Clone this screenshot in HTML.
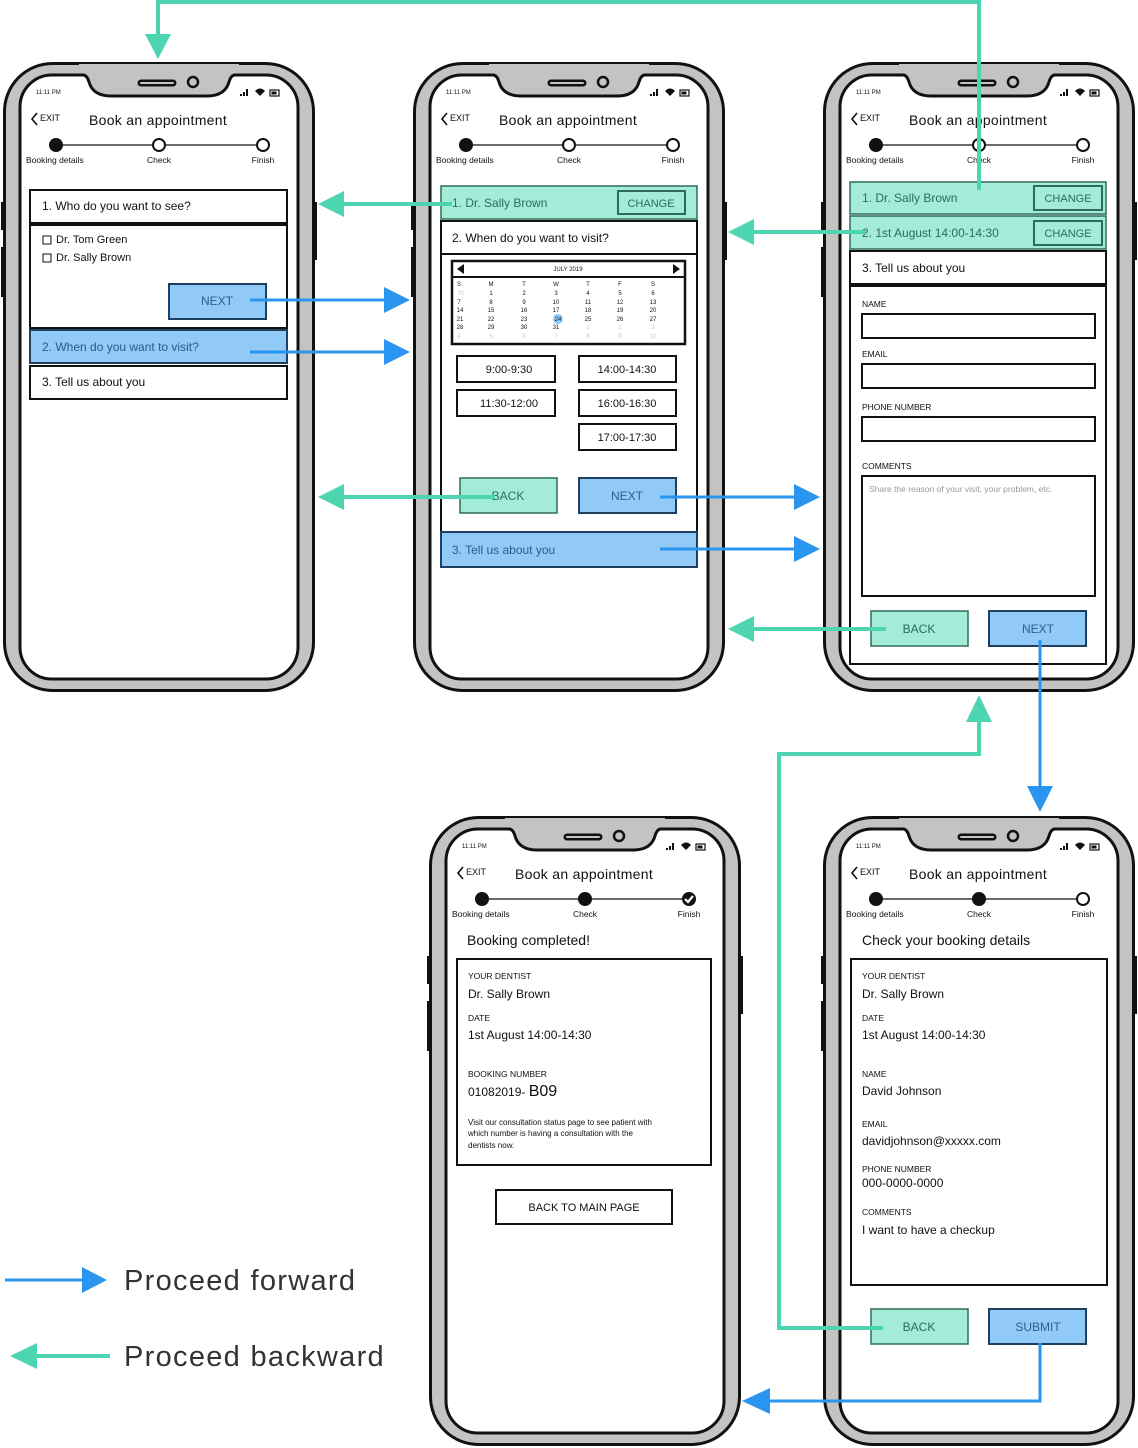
<!DOCTYPE html>
<html><head><meta charset="utf-8">
<style>
html,body{margin:0;padding:0;background:#fff;}
svg{display:block;}
text{font-family:"Liberation Sans",sans-serif;fill:#111;}
.s{font-size:12px}
.lb{font-size:8.5px}
.tn{font-size:6px}
.cal{font-size:6px;text-anchor:middle}
.g{fill:#ccc}
.bt{font-size:11px;text-anchor:middle}
</style></head>
<body>
<svg width="1138" height="1448" viewBox="0 0 1138 1448" xmlns="http://www.w3.org/2000/svg">
<defs>
<g id="frame">
  <rect x="-2" y="140" width="5" height="28" fill="#111"/>
  <rect x="-2" y="185" width="5" height="50" fill="#111"/>
  <rect x="309" y="140" width="5" height="58" fill="#111"/>
  <rect x="1.5" y="1.5" width="309" height="627" rx="48" fill="#c3c3c3" stroke="#111" stroke-width="3"/>
  <rect x="17" y="13" width="278" height="604" rx="32" fill="#fff" stroke="#111" stroke-width="3"/>
  <path d="M76,11 L80,11 Q84,12 86,20 Q90,34 108,34 L204,34 Q222,34 226,20 Q228,12 232,11 L236,11 L236,2 L76,2 Z" fill="#c3c3c3"/>
  <path d="M80,13 Q84,13 86,20 Q90,34 108,34 L204,34 Q222,34 226,20 Q228,13 232,13" fill="none" stroke="#111" stroke-width="3"/>
  <line x1="138" y1="21" x2="170" y2="21" stroke="#111" stroke-width="7" stroke-linecap="round"/>
  <line x1="138" y1="21" x2="170" y2="21" stroke="#c3c3c3" stroke-width="2" stroke-linecap="round"/>
  <circle cx="190" cy="20" r="5" fill="#c3c3c3" stroke="#111" stroke-width="2.5"/>
  <rect x="237" y="32" width="2" height="2" fill="#111"/><rect x="240" y="30" width="2" height="4" fill="#111"/><rect x="243" y="27" width="2" height="7" fill="#111"/>
  <path d="M252,29 Q257,24 262,29 L257,34 Z" fill="#111"/>
  <rect x="267" y="28" width="9" height="6" fill="none" stroke="#111" stroke-width="1.2"/><rect x="268.5" y="29.5" width="5" height="3" fill="#111"/>
  <path d="M34,51 L29,57 L34,63" fill="none" stroke="#111" stroke-width="1.6"/>
  <line x1="53" y1="83" x2="260" y2="83" stroke="#111" stroke-width="1.2"/>
</g>
<g id="hdr">
  <text x="33" y="32" style="font-size:6px">11:11 PM</text>
  <text x="37" y="59" style="font-size:9px">EXIT</text>
  <text x="86" y="63" style="font-size:14px;letter-spacing:0.3px">Book an appointment</text>
  <text x="23" y="101" style="font-size:8.5px">Booking details</text>
  <text x="156" y="101" style="font-size:8.5px" text-anchor="middle">Check</text>
  <text x="260" y="101" style="font-size:8.5px" text-anchor="middle">Finish</text>
</g>
</defs>

<!-- Phone 1 -->
<g transform="translate(3,62)"><use href="#frame"/><use href="#hdr"/>
<circle cx="53" cy="83" r="7" fill="#111"/><circle cx="156" cy="83" r="6" fill="#fff" stroke="#111" stroke-width="2"/><circle cx="260" cy="83" r="6" fill="#fff" stroke="#111" stroke-width="2"/></g>
<rect x="30" y="190" width="257" height="33" fill="#fff" stroke="#111" stroke-width="2"/>
<text x="42" y="210" class="s">1. Who do you want to see?</text>
<rect x="30" y="225" width="257" height="103" fill="#fff" stroke="#111" stroke-width="2"/>
<rect x="43" y="236" width="8" height="8" fill="none" stroke="#111"/><text x="56" y="243" style="font-size:11px">Dr. Tom Green</text>
<rect x="43" y="254" width="8" height="8" fill="none" stroke="#111"/><text x="56" y="261" style="font-size:11px">Dr. Sally Brown</text>
<rect x="169" y="284" width="97" height="35" fill="#91c9f7" stroke="#1d4060" stroke-width="2"/>
<text x="217" y="305" class="bt" style="fill:#2d5f8a;font-size:12px">NEXT</text>
<rect x="30" y="330" width="257" height="33" fill="#91c9f7" stroke="#1d4060" stroke-width="2"/>
<text x="42" y="351" class="s" style="fill:#2a5b86">2. When do you want to visit?</text>
<rect x="30" y="366" width="257" height="33" fill="#fff" stroke="#111" stroke-width="2"/>
<text x="42" y="386" class="s">3. Tell us about you</text>

<!-- Phone 2 -->
<g transform="translate(413,62)"><use href="#frame"/><use href="#hdr"/>
<circle cx="53" cy="83" r="7" fill="#111"/><circle cx="156" cy="83" r="6" fill="#fff" stroke="#111" stroke-width="2"/><circle cx="260" cy="83" r="6" fill="#fff" stroke="#111" stroke-width="2"/></g>
<rect x="441" y="221" width="256" height="346" fill="#fff" stroke="#111" stroke-width="2"/>
<rect x="441" y="186" width="256" height="33" fill="#a3ecd9" stroke="#2e6b5a" stroke-width="1.5"/>
<text x="452" y="207" class="s" style="fill:#2e6b5a">1. Dr. Sally Brown</text>
<rect x="618" y="191" width="67" height="23" fill="none" stroke="#2e6b5a" stroke-width="2"/>
<text x="651" y="207" class="bt" style="fill:#2e6b5a">CHANGE</text>
<line x1="441" y1="254" x2="697" y2="254" stroke="#111" stroke-width="2"/>
<text x="452" y="242" class="s">2. When do you want to visit?</text>
<rect x="452" y="261" width="233" height="83" fill="#fff" stroke="#111" stroke-width="2.5"/>
<line x1="452" y1="277" x2="685" y2="277" stroke="#111" stroke-width="2"/>
<path d="M457,269 L464,264 L464,274 Z" fill="#111"/><path d="M680,269 L673,264 L673,274 Z" fill="#111"/>
<text x="568" y="271" class="cal">JULY 2019</text>
<g class="cal">
<text x="459" y="286" class="cal">S</text><text x="491" y="286" class="cal">M</text><text x="524" y="286" class="cal">T</text><text x="556" y="286" class="cal">W</text><text x="588" y="286" class="cal">T</text><text x="620" y="286" class="cal">F</text><text x="653" y="286" class="cal">S</text>
<text x="461" y="295" class="cal" style="fill:#ccc">30</text><text x="491" y="295" class="cal">1</text><text x="524" y="295" class="cal">2</text><text x="556" y="295" class="cal">3</text><text x="588" y="295" class="cal">4</text><text x="620" y="295" class="cal">5</text><text x="653" y="295" class="cal">6</text>
<text x="459" y="304" class="cal">7</text><text x="491" y="304" class="cal">8</text><text x="524" y="304" class="cal">9</text><text x="556" y="304" class="cal">10</text><text x="588" y="304" class="cal">11</text><text x="620" y="304" class="cal">12</text><text x="653" y="304" class="cal">13</text>
<text x="460" y="312" class="cal">14</text><text x="491" y="312" class="cal">15</text><text x="524" y="312" class="cal">16</text><text x="556" y="312" class="cal">17</text><text x="588" y="312" class="cal">18</text><text x="620" y="312" class="cal">19</text><text x="653" y="312" class="cal">20</text>
<circle cx="558" cy="319" r="5" fill="#91c9f7"/>
<text x="460" y="321" class="cal">21</text><text x="491" y="321" class="cal">22</text><text x="524" y="321" class="cal">23</text><text x="558" y="321" class="cal">24</text><text x="588" y="321" class="cal">25</text><text x="620" y="321" class="cal">26</text><text x="653" y="321" class="cal">27</text>
<text x="460" y="329" class="cal">28</text><text x="491" y="329" class="cal">29</text><text x="524" y="329" class="cal">30</text><text x="556" y="329" class="cal">31</text><text x="588" y="329" class="cal" style="fill:#ccc">1</text><text x="620" y="329" class="cal" style="fill:#ccc">2</text><text x="653" y="329" class="cal" style="fill:#ccc">3</text>
<text x="459" y="338" class="cal" style="fill:#ccc">4</text><text x="491" y="338" class="cal" style="fill:#ccc">5</text><text x="524" y="338" class="cal" style="fill:#ccc">6</text><text x="556" y="338" class="cal" style="fill:#ccc">7</text><text x="588" y="338" class="cal" style="fill:#ccc">8</text><text x="620" y="338" class="cal" style="fill:#ccc">9</text><text x="653" y="338" class="cal" style="fill:#ccc">10</text>
</g>
<g fill="#fff" stroke="#111" stroke-width="2">
<rect x="457" y="356" width="98" height="26"/><rect x="579" y="356" width="97" height="26"/>
<rect x="457" y="390" width="98" height="26"/><rect x="579" y="390" width="97" height="26"/>
<rect x="579" y="424" width="97" height="26"/>
</g>
<text x="509" y="373" class="bt">9:00-9:30</text><text x="627" y="373" class="bt">14:00-14:30</text>
<text x="509" y="407" class="bt">11:30-12:00</text><text x="627" y="407" class="bt">16:00-16:30</text>
<text x="627" y="441" class="bt">17:00-17:30</text>
<rect x="460" y="478" width="97" height="35" fill="#a3ecd9" stroke="#2e6b5a" stroke-width="1.5"/>
<text x="508" y="500" class="bt" style="fill:#2e6b5a;font-size:12px">BACK</text>
<rect x="579" y="478" width="97" height="35" fill="#91c9f7" stroke="#1d4060" stroke-width="2"/>
<text x="627" y="500" class="bt" style="fill:#2d5f8a;font-size:12px">NEXT</text>
<rect x="441" y="532" width="256" height="35" fill="#91c9f7" stroke="#1d4060" stroke-width="2"/>
<text x="452" y="554" class="s" style="fill:#2a5b86">3. Tell us about you</text>

<!-- Phone 3 -->
<g transform="translate(823,62)"><use href="#frame"/><use href="#hdr"/>
<circle cx="53" cy="83" r="7" fill="#111"/><circle cx="156" cy="83" r="6" fill="#fff" stroke="#111" stroke-width="2"/><circle cx="260" cy="83" r="6" fill="#fff" stroke="#111" stroke-width="2"/></g>
<rect x="850" y="182" width="256" height="32" fill="#a3ecd9" stroke="#2e6b5a" stroke-width="1.5"/>
<text x="862" y="202" class="s" style="fill:#2e6b5a">1. Dr. Sally Brown</text>
<rect x="1034" y="186" width="68" height="24" fill="none" stroke="#2e6b5a" stroke-width="2"/>
<text x="1068" y="202" class="bt" style="fill:#2e6b5a">CHANGE</text>
<rect x="850" y="216" width="256" height="33" fill="#a3ecd9" stroke="#2e6b5a" stroke-width="1.5"/>
<text x="862" y="237" class="s" style="fill:#2e6b5a">2. 1st August 14:00-14:30</text>
<rect x="1034" y="221" width="68" height="24" fill="none" stroke="#2e6b5a" stroke-width="2"/>
<text x="1068" y="237" class="bt" style="fill:#2e6b5a">CHANGE</text>
<rect x="850" y="251" width="256" height="33" fill="#fff" stroke="#111" stroke-width="2"/>
<text x="862" y="272" class="s">3. Tell us about you</text>
<rect x="850" y="286" width="256" height="378" fill="#fff" stroke="#111" stroke-width="2"/>
<text x="862" y="307" class="lb">NAME</text>
<rect x="862" y="314" width="233" height="24" fill="#fff" stroke="#111" stroke-width="2"/>
<text x="862" y="357" class="lb">EMAIL</text>
<rect x="862" y="364" width="233" height="24" fill="#fff" stroke="#111" stroke-width="2"/>
<text x="862" y="410" class="lb">PHONE NUMBER</text>
<rect x="862" y="417" width="233" height="24" fill="#fff" stroke="#111" stroke-width="2"/>
<text x="862" y="469" class="lb">COMMENTS</text>
<rect x="862" y="476" width="233" height="120" fill="#fff" stroke="#111" stroke-width="2"/>
<text x="869" y="492" style="font-size:8.5px;fill:#999">Share the reason of your visit, your problem, etc.</text>
<rect x="871" y="611" width="97" height="35" fill="#a3ecd9" stroke="#2e6b5a" stroke-width="1.5"/>
<text x="919" y="633" class="bt" style="fill:#2e6b5a;font-size:12px">BACK</text>
<rect x="989" y="611" width="97" height="35" fill="#91c9f7" stroke="#1d4060" stroke-width="2"/>
<text x="1038" y="633" class="bt" style="fill:#2d5f8a;font-size:12px">NEXT</text>

<!-- Phone 4 -->
<g transform="translate(429,816)"><use href="#frame"/><use href="#hdr"/>
<circle cx="53" cy="83" r="7" fill="#111"/><circle cx="156" cy="83" r="7" fill="#111"/><circle cx="260" cy="83" r="7" fill="#111"/>
<path d="M256,83 L259,86 L264,80" fill="none" stroke="#fff" stroke-width="2.2"/></g>
<text x="467" y="945" style="font-size:14px">Booking completed!</text>
<rect x="457" y="959" width="254" height="206" fill="#fff" stroke="#111" stroke-width="2"/>
<text x="468" y="979" class="lb">YOUR DENTIST</text>
<text x="468" y="998" class="s">Dr. Sally Brown</text>
<text x="468" y="1021" class="lb">DATE</text>
<text x="468" y="1039" class="s">1st August 14:00-14:30</text>
<text x="468" y="1077" class="lb">BOOKING NUMBER</text>
<text x="468" y="1096" class="s">01082019- <tspan style="font-size:16px">B09</tspan></text>
<text x="468" y="1125" style="font-size:8px">Visit our consultation status page to see patient with</text>
<text x="468" y="1136" style="font-size:8px">which number is having a consultation with the</text>
<text x="468" y="1148" style="font-size:8px">dentists now.</text>
<rect x="496" y="1190" width="176" height="34" fill="#fff" stroke="#111" stroke-width="2"/>
<text x="584" y="1211" class="bt">BACK TO MAIN PAGE</text>

<!-- Phone 5 -->
<g transform="translate(823,816)"><use href="#frame"/><use href="#hdr"/>
<circle cx="53" cy="83" r="7" fill="#111"/><circle cx="156" cy="83" r="7" fill="#111"/><circle cx="260" cy="83" r="6" fill="#fff" stroke="#111" stroke-width="2"/></g>
<text x="862" y="945" style="font-size:14px">Check your booking details</text>
<rect x="851" y="959" width="256" height="326" fill="#fff" stroke="#111" stroke-width="2"/>
<text x="862" y="979" class="lb">YOUR DENTIST</text>
<text x="862" y="998" class="s">Dr. Sally Brown</text>
<text x="862" y="1021" class="lb">DATE</text>
<text x="862" y="1039" class="s">1st August 14:00-14:30</text>
<text x="862" y="1077" class="lb">NAME</text>
<text x="862" y="1095" class="s">David Johnson</text>
<text x="862" y="1127" class="lb">EMAIL</text>
<text x="862" y="1145" class="s">davidjohnson@xxxxx.com</text>
<text x="862" y="1172" class="lb">PHONE NUMBER</text>
<text x="862" y="1187" class="s">000-0000-0000</text>
<text x="862" y="1215" class="lb">COMMENTS</text>
<text x="862" y="1234" class="s">I want to have a checkup</text>
<rect x="871" y="1309" width="97" height="35" fill="#a3ecd9" stroke="#2e6b5a" stroke-width="1.5"/>
<text x="919" y="1331" class="bt" style="fill:#2e6b5a;font-size:12px">BACK</text>
<rect x="989" y="1309" width="97" height="35" fill="#91c9f7" stroke="#1d4060" stroke-width="2"/>
<text x="1038" y="1331" class="bt" style="fill:#2d5f8a;font-size:12px">SUBMIT</text>

<!-- Teal arrows -->
<g stroke="#4dd4b0" stroke-width="4" fill="none">
<polyline points="979,190 979,2 158,2 158,36"/>
<line x1="452" y1="204" x2="342" y2="204"/>
<line x1="495" y1="497" x2="342" y2="497"/>
<line x1="866" y1="232" x2="752" y2="232"/>
<line x1="886" y1="629" x2="752" y2="629"/>
<polyline points="883,1328 779,1328 779,754 979,754 979,720"/>
<line x1="37" y1="1356" x2="110" y2="1356"/>
</g>
<g fill="#4dd4b0">
<path d="M145,34 L171,34 L158,59 Z"/>
<path d="M344,191 L344,217 L318,204 Z"/>
<path d="M344,484 L344,510 L318,497 Z"/>
<path d="M754,219 L754,245 L728,232 Z"/>
<path d="M754,616 L754,642 L728,629 Z"/>
<path d="M966,722 L992,722 L979,695 Z"/>
<path d="M37,1343 L37,1369 L10,1356 Z"/>
</g>
<!-- Blue arrows -->
<g stroke="#2a95ee" stroke-width="3" fill="none">
<line x1="250" y1="300" x2="386" y2="300"/>
<line x1="250" y1="352" x2="386" y2="352"/>
<line x1="660" y1="497" x2="796" y2="497"/>
<line x1="660" y1="549" x2="796" y2="549"/>
<line x1="1040" y1="640" x2="1040" y2="788"/>
<polyline points="1040,1343 1040,1401 768,1401"/>
<line x1="5" y1="1280" x2="84" y2="1280"/>
</g>
<g fill="#2a95ee">
<path d="M384,287 L384,313 L410,300 Z"/>
<path d="M384,339 L384,365 L410,352 Z"/>
<path d="M794,484 L794,510 L820,497 Z"/>
<path d="M794,536 L794,562 L820,549 Z"/>
<path d="M1027,786 L1053,786 L1040,812 Z"/>
<path d="M770,1388 L770,1414 L742,1401 Z"/>
<path d="M82,1267 L82,1293 L107,1280 Z"/>
</g>
<text x="124" y="1290" style="font-size:29px;fill:#333;letter-spacing:1.3px">Proceed forward</text>
<text x="124" y="1366" style="font-size:29px;fill:#333;letter-spacing:1.3px">Proceed backward</text>
</svg>
</body></html>
